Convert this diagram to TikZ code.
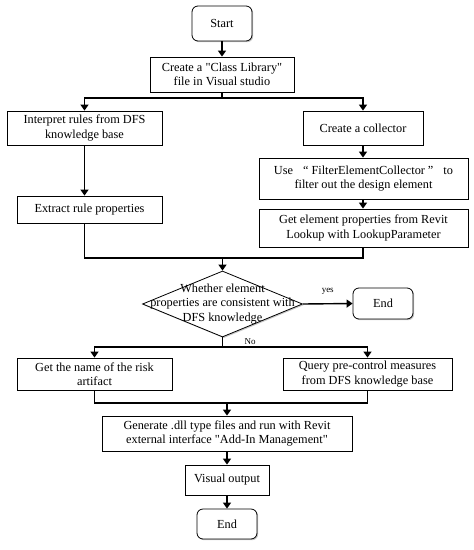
\documentclass[tikz,border=0pt]{standalone}
\usepackage{fontspec}
\newfontfamily\tnr{Liberation Serif}
\usetikzlibrary{shapes.geometric,arrows.meta,shadows}
\begin{document}
\begin{tikzpicture}[x=1pt,y=-1pt,
  font=\tnr\fontsize{12.3}{14.3}\selectfont,
  wh/.style 2 args={minimum width=#1pt, minimum height=#2pt},
  box/.style={draw, line width=0.8pt, fill=white, align=center, inner sep=0pt,
    general shadow={fill=black!22, shadow xshift=1.2pt, shadow yshift=-1.2pt}},
  rbox/.style={box, rounded corners=6pt},
  conn/.style={line width=1.4pt, -{Triangle[length=6pt,width=8pt]}},
  plain/.style={line width=1.4pt},
  small/.style={font=\tnr\fontsize{9}{10}\selectfont}]
\useasboundingbox (0,0) rectangle (474,550);

\node[rbox, wh={60}{35}] (start) at (222,23.5) {Start};
\node[box, wh={144}{35}] (lib) at (222,74.5) {Create a "Class Library"\\file in Visual studio};
\node[box, wh={155}{34}] (interp) at (84.5,128) {Interpret rules from DFS\\knowledge base};
\node[box, wh={120}{34}] (coll) at (363,128) {Create a collector};
\node[box, wh={209}{41}] (filter) at (363.5,178.5) {Use\hspace{10pt}“\hspace{3pt}FilterElementCollector\hspace{3pt}”\hspace{10pt}to\\filter out the design element};
\node[box, wh={209}{38}] (getel) at (363.5,228) {Get element properties from Revit\\Lookup with LookupParameter};
\node[box, wh={145}{27}] (extract) at (89.5,209.5) {Extract rule properties};
\node[draw, diamond, line width=0.8pt, fill=white, wh={160}{66}, inner sep=0pt,
  general shadow={fill=black!22, shadow xshift=1.2pt, shadow yshift=-1.2pt},
  label={[align=center]center:Whether element\\properties are consistent with\\DFS knowledge}] (dec) at (222.5,304) {};
\node[rbox, wh={60}{31}] (end1) at (383,303.5) {End};
\node[box, wh={155}{32}] (risk) at (94.5,374) {Get the name of the risk\\artifact};
\node[box, wh={169}{32}] (query) at (367.5,374) {Query pre-control measures\\from DFS knowledge base};
\node[box, wh={250}{35}] (gen) at (227,433.5) {Generate .dll type files and run with Revit\\external interface "Add-In Management"};
\node[box, wh={84}{30}] (vis) at (227,480) {Visual output};
\node[rbox, wh={60}{30}] (end2) at (227,524) {End};

\coordinate (b1) at (222,98);
\coordinate (m1) at (222.5,258);
\coordinate (b2) at (222.5,347);
\coordinate (m2) at (227,403);

\draw[conn] (start) -- (lib);
\draw[plain] (lib.south) -- (b1);
\draw[conn] (b1) -| (interp.north);
\draw[conn] (b1) -| (coll.north);
\draw[conn] (interp.south) -- (interp.south |- extract.north);
\draw[conn] (coll.south) -- (coll.south |- filter.north);
\draw[conn] (coll.south |- filter.south) -- (coll.south |- getel.north);
\draw[plain] (interp.south |- extract.south) |- (m1);
\draw[plain] (coll.south |- getel.south) |- (m1);
\draw[conn] (m1) -- (dec.north);
\draw[conn] (dec.east) -- (end1.west) node[midway, above=5pt, small] (yes) {yes};
\draw[plain] (dec.south) -- (b2) node[pos=0.4, right=18pt, small] (no) {No};
\draw[conn] (b2) -| (risk.north);
\draw[conn] (b2) -| (query.north);
\draw[plain] (risk.south) |- (m2);
\draw[plain] (query.south) |- (m2);
\draw[conn] (m2) -- (gen.north);
\draw[conn] (gen) -- (vis);
\draw[conn] (vis) -- (end2);
\end{tikzpicture}
\end{document}
